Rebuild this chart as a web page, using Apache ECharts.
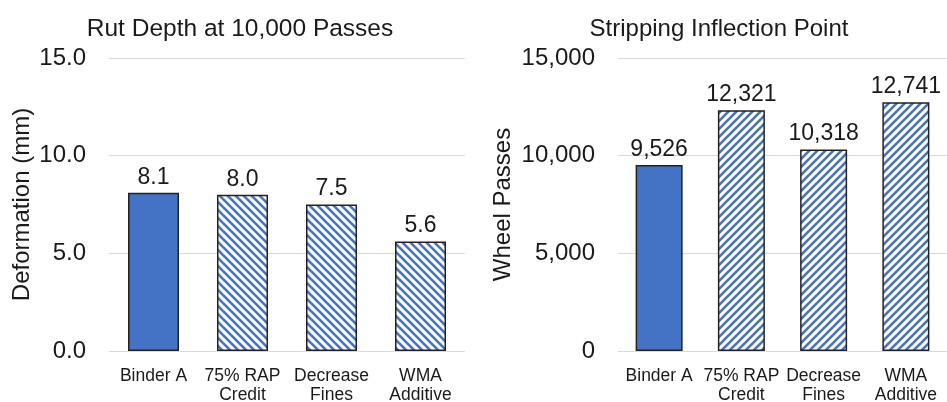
<!DOCTYPE html>
<html>
<head>
<meta charset="utf-8">
<script src="https://cdn.jsdelivr.net/npm/echarts@6/dist/echarts.min.js"></script>
<style>
  html, body { margin: 0; padding: 0; background: #fff; }
  #chart { width: 947px; height: 402px; }
</style>
</head>
<body>
<div id="chart"></div>
<script>
// Mix variants tested in the Hamburg wheel tracking device
const categories = ['Binder A', '75% RAP\nCredit', 'Decrease\nFines', 'WMA\nAdditive'];
// Rut depth after 10,000 passes, mm
const rutDepth = [8.1, 8.0, 7.5, 5.6];
// Stripping inflection point, wheel passes
const inflectionPasses = [9526, 12321, 10318, 12741];
// Value axis ticks
const rutTicks = [0, 5, 10, 15];
const passTicks = [0, 5000, 10000, 15000];

const BLUE = '#4472C4';
const FONT = '"Liberation Sans", Arial, sans-serif';

// Diagonal hatch tile; dir = 1 for "\" stripes, -1 for "/" stripes
function hatch(dir) {
  const s = 8;
  const c = document.createElement('canvas');
  c.width = s; c.height = s;
  const g = c.getContext('2d');
  g.fillStyle = '#ffffff';
  g.fillRect(0, 0, s, s);
  g.strokeStyle = BLUE;
  g.lineWidth = 2.6;
  for (let k = -s; k <= s; k += s) {
    g.beginPath();
    if (dir > 0) { g.moveTo(k - 1, -1); g.lineTo(k + s + 1, s + 1); }
    else { g.moveTo(k - 1, s + 1); g.lineTo(k + s + 1, -1); }
    g.stroke();
  }
  return { image: c, repeat: 'repeat' };
}

function barData(values, pattern) {
  return values.map((v, i) => ({
    value: v,
    itemStyle: { color: i === 0 ? BLUE : pattern }
  }));
}

const chart = echarts.init(document.getElementById('chart'), null, { renderer: 'canvas' });

const catAxis = (gridIndex) => ({
  type: 'category',
  gridIndex,
  data: categories,
  axisLine: { show: false },
  axisTick: { show: false },
  axisLabel: {
    color: '#1a1a1a', fontFamily: FONT, fontSize: 17.5, lineHeight: 19,
    margin: 16, interval: 0
  }
});

const valAxis = (gridIndex, ticks, name, nameGap, fmt) => ({
  type: 'value',
  gridIndex,
  min: ticks[0],
  max: ticks[ticks.length - 1],
  interval: ticks[1] - ticks[0],
  name,
  nameLocation: 'middle',
  nameGap,
  nameTextStyle: { color: '#1a1a1a', fontFamily: FONT, fontSize: 24 },
  axisLine: { show: false },
  axisTick: { show: false },
  splitLine: { lineStyle: { color: '#d9d9d9', width: 1 } },
  axisLabel: { color: '#1a1a1a', fontFamily: FONT, fontSize: 24, margin: 23, formatter: fmt }
});

chart.setOption({
  animation: false,
  backgroundColor: '#ffffff',
  title: [
    { text: 'Rut Depth at 10,000 Passes', left: 235, top: 12, textAlign: 'center',
      textStyle: { color: '#1a1a1a', fontFamily: FONT, fontSize: 24.5, fontWeight: 'normal' } },
    { text: 'Stripping Inflection Point', left: 714, top: 12, textAlign: 'center',
      textStyle: { color: '#1a1a1a', fontFamily: FONT, fontSize: 24, fontWeight: 'normal' } }
  ],
  grid: [
    { left: 109, width: 356, top: 58, bottom: 51, outerBoundsMode: 'none', containLabel: false },
    { left: 618, right: 0, top: 58, bottom: 51, outerBoundsMode: 'none', containLabel: false }
  ],
  xAxis: [catAxis(0), catAxis(1)],
  yAxis: [
    valAxis(0, rutTicks, 'Deformation (mm)', 75, v => v.toFixed(1)),
    valAxis(1, passTicks, 'Wheel Passes', 103, v => v.toLocaleString('en-US'))
  ],
  series: [
    {
      type: 'bar', xAxisIndex: 0, yAxisIndex: 0, barWidth: 51,
      data: barData(rutDepth, hatch(1)),
      itemStyle: { borderColor: '#222', borderWidth: 1.5 },
      label: { show: true, position: 'top', distance: 4, color: '#1a1a1a',
               fontFamily: FONT, fontSize: 23, formatter: p => p.value.toFixed(1) }
    },
    {
      type: 'bar', xAxisIndex: 1, yAxisIndex: 1, barWidth: 47,
      data: barData(inflectionPasses, hatch(-1)),
      itemStyle: { borderColor: '#222', borderWidth: 1.5 },
      label: { show: true, position: 'top', distance: 4, color: '#1a1a1a',
               fontFamily: FONT, fontSize: 23, formatter: p => p.value.toLocaleString('en-US') }
    }
  ]
});
</script>
</body>
</html>
